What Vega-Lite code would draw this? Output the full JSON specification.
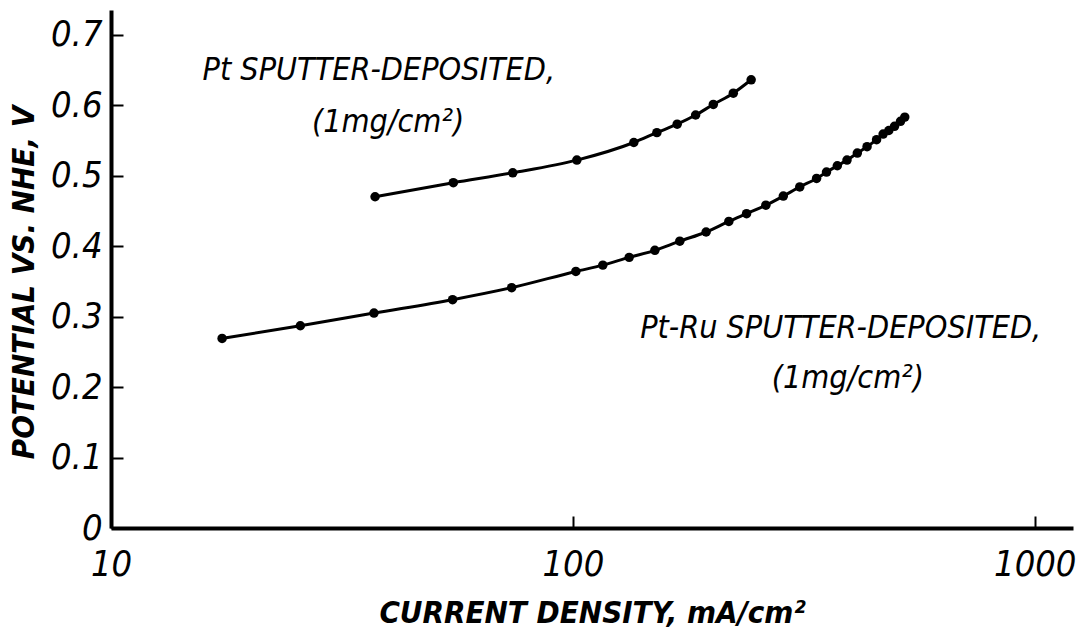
{
  "$schema": "https://vega.github.io/schema/vega-lite/v6.json",
  "width": 962,
  "height": 518,
  "autosize": {"type": "none"},
  "padding": {"left": 111, "top": 10, "right": 7, "bottom": 104},
  "background": "white",
  "config": {
    "view": {"stroke": null},
    "font": "Liberation Sans Narrow, Arial Narrow, DejaVu Sans Condensed, Liberation Sans, sans-serif"
  },
  "datasets": {
    "curves": [
      {"series": "Pt", "current": 37.3, "potential": 0.470},
      {"series": "Pt", "current": 55.1, "potential": 0.490},
      {"series": "Pt", "current": 74.1, "potential": 0.504},
      {"series": "Pt", "current": 102.0, "potential": 0.522},
      {"series": "Pt", "current": 135.5, "potential": 0.547},
      {"series": "Pt", "current": 152.0, "potential": 0.561},
      {"series": "Pt", "current": 168.2, "potential": 0.573},
      {"series": "Pt", "current": 184.4, "potential": 0.586},
      {"series": "Pt", "current": 201.4, "potential": 0.601},
      {"series": "Pt", "current": 222.5, "potential": 0.617},
      {"series": "Pt", "current": 243.2, "potential": 0.636},
      {"series": "PtRu", "current": 17.4, "potential": 0.269},
      {"series": "PtRu", "current": 25.7, "potential": 0.287},
      {"series": "PtRu", "current": 37.1, "potential": 0.305},
      {"series": "PtRu", "current": 54.9, "potential": 0.324},
      {"series": "PtRu", "current": 73.7, "potential": 0.341},
      {"series": "PtRu", "current": 101.5, "potential": 0.364},
      {"series": "PtRu", "current": 116.1, "potential": 0.373},
      {"series": "PtRu", "current": 132.4, "potential": 0.384},
      {"series": "PtRu", "current": 150.5, "potential": 0.394},
      {"series": "PtRu", "current": 170.4, "potential": 0.407},
      {"series": "PtRu", "current": 194.3, "potential": 0.420},
      {"series": "PtRu", "current": 217.6, "potential": 0.435},
      {"series": "PtRu", "current": 237.7, "potential": 0.446},
      {"series": "PtRu", "current": 261.7, "potential": 0.458},
      {"series": "PtRu", "current": 285.5, "potential": 0.471},
      {"series": "PtRu", "current": 309.9, "potential": 0.484},
      {"series": "PtRu", "current": 337.0, "potential": 0.496},
      {"series": "PtRu", "current": 354.1, "potential": 0.505},
      {"series": "PtRu", "current": 373.7, "potential": 0.514},
      {"series": "PtRu", "current": 392.2, "potential": 0.522},
      {"series": "PtRu", "current": 412.9, "potential": 0.532},
      {"series": "PtRu", "current": 433.4, "potential": 0.541},
      {"series": "PtRu", "current": 454.5, "potential": 0.551},
      {"series": "PtRu", "current": 469.6, "potential": 0.559},
      {"series": "PtRu", "current": 483.1, "potential": 0.564},
      {"series": "PtRu", "current": 497.0, "potential": 0.570},
      {"series": "PtRu", "current": 512.1, "potential": 0.577},
      {"series": "PtRu", "current": 523.1, "potential": 0.583}
    ],
    "labels": [
      {"current": 38.0, "potential": 0.636, "text": "Pt SPUTTER-DEPOSITED,"},
      {"current": 39.8, "potential": 0.562, "text": "(1mg/cm²)"},
      {"current": 380.0, "potential": 0.270, "text": "Pt-Ru SPUTTER-DEPOSITED,"},
      {"current": 393.8, "potential": 0.199, "text": "(1mg/cm²)"}
    ]
  },
  "layer": [
    {
      "data": {"name": "curves"},
      "mark": {"type": "line", "color": "black", "strokeWidth": 3, "interpolate": "monotone"},
      "encoding": {
        "x": {
          "field": "current", "type": "quantitative",
          "scale": {"type": "log", "domain": [10, 1210], "nice": false},
          "axis": {
            "title": "CURRENT DENSITY, mA/cm²",
            "values": [10, 100, 1000],
            "format": "d",
            "grid": false,
            "domainColor": "black", "domainWidth": 4,
            "tickColor": "black", "tickWidth": 2, "tickSize": -12,
            "labelPadding": 31,
            "labelFontSize": 36, "labelFontStyle": "italic", "labelColor": "black",
            "labelFlush": false,
            "titleFontSize": 31, "titleFontStyle": "italic", "titleFontWeight": "bold", "titleColor": "black",
            "titlePadding": 16
          }
        },
        "y": {
          "field": "potential", "type": "quantitative",
          "scale": {"domain": [0, 0.735], "nice": false},
          "axis": {
            "title": "POTENTIAL VS. NHE, V",
            "values": [0, 0.1, 0.2, 0.3, 0.4, 0.5, 0.6, 0.7],
            "labelExpr": "datum.value == 0 ? '0' : format(datum.value, '.1f')",
            "grid": false,
            "domainColor": "black", "domainWidth": 4,
            "tickColor": "black", "tickWidth": 2, "tickSize": -12,
            "labelPadding": 21,
            "labelFontSize": 36, "labelFontStyle": "italic", "labelColor": "black",
            "titleFontSize": 31, "titleFontStyle": "italic", "titleFontWeight": "bold", "titleColor": "black",
            "titlePadding": 10,
            "titleY": 272
          }
        },
        "detail": {"field": "series"}
      }
    },
    {
      "data": {"name": "curves"},
      "mark": {"type": "point", "filled": true, "color": "black", "size": 90, "opacity": 1},
      "encoding": {
        "x": {"field": "current", "type": "quantitative"},
        "y": {"field": "potential", "type": "quantitative"}
      }
    },
    {
      "data": {"name": "labels"},
      "mark": {"type": "text", "fontSize": 32, "fontStyle": "italic", "color": "black", "align": "center", "baseline": "alphabetic"},
      "encoding": {
        "x": {"field": "current", "type": "quantitative"},
        "y": {"field": "potential", "type": "quantitative"},
        "text": {"field": "text"}
      }
    }
  ]
}
